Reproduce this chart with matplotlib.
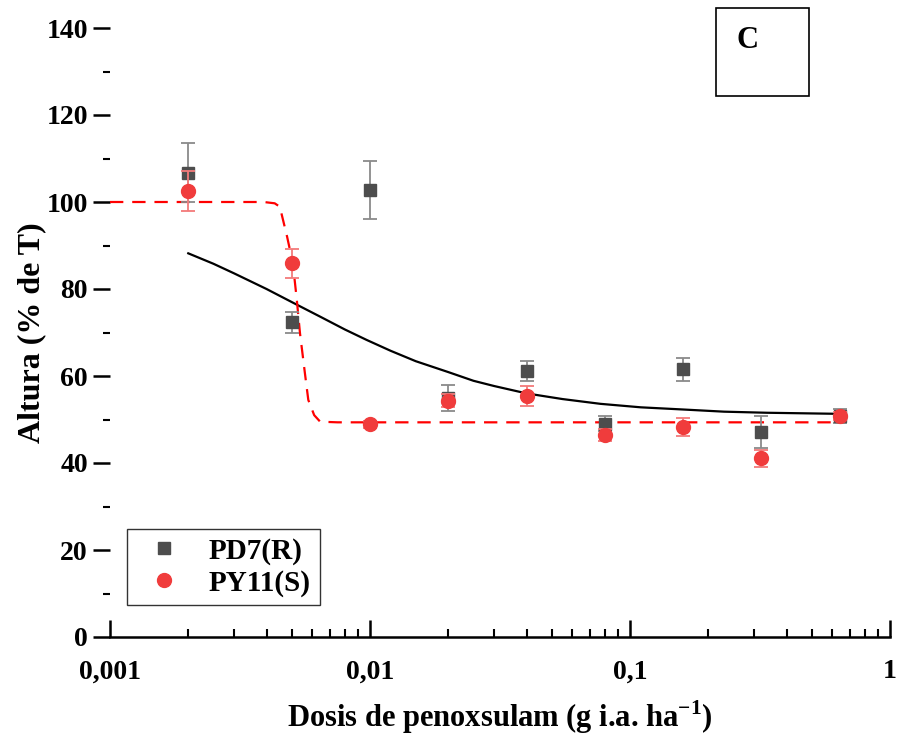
import numpy as np
import matplotlib.pyplot as plt
from matplotlib.patches import Rectangle
from matplotlib.lines import Line2D
from matplotlib.ticker import FixedLocator, FixedFormatter, MultipleLocator, LogLocator, NullFormatter

plt.rcParams['font.family'] = ['Liberation Serif', 'DejaVu Serif']
plt.rcParams['font.weight'] = 'bold'
plt.rcParams['mathtext.fontset'] = 'custom'
plt.rcParams['mathtext.rm'] = 'Liberation Serif:bold'
plt.rcParams['mathtext.bf'] = 'Liberation Serif:bold'

# dose (g i.a./ha)
dose = [0.002, 0.005, 0.01, 0.02, 0.04, 0.08, 0.16, 0.32, 0.64]

# PD7(R)
pd7 = [106.7, 72.3, 102.8, 55.0, 61.1, 49.0, 61.5, 47.2, 50.8]
pd7_err = [6.8, 2.4, 6.7, 3.0, 2.3, 1.7, 2.7, 3.7, 1.7]

# PY11(S)
py11 = [102.6, 85.9, 48.9, 54.3, 55.4, 46.4, 48.3, 41.1, 50.8]
py11_err = [4.6, 3.4, 0.8, 1.5, 2.3, 1.4, 2.0, 2.0, 1.0]

# fitted curves
fit_r_x = [0.002, 0.0025, 0.003, 0.004, 0.005, 0.0065, 0.008, 0.0097, 0.012, 0.015,
           0.02, 0.025, 0.03, 0.04, 0.055, 0.077, 0.11, 0.16, 0.23, 0.336, 0.64]
fit_r_y = [88.2, 85.8, 83.6, 80.0, 77.0, 73.5, 70.7, 68.3, 65.8, 63.4,
           60.9, 58.9, 57.7, 56.0, 54.7, 53.6, 52.8, 52.3, 51.8, 51.55, 51.3]

fit_s_x = [0.001, 0.0039, 0.0043, 0.0045, 0.0048, 0.00505, 0.00523, 0.00538, 0.00562,
           0.00579, 0.0061, 0.00643, 0.0075, 0.64]
fit_s_y = [100.0, 100.0, 99.7, 98.9, 92.0, 85.9, 77.5, 69.8, 60.6, 54.5, 51.0, 49.5, 49.35, 49.35]

fig = plt.figure(figsize=(9.01, 7.40), dpi=100)
ax = fig.add_axes([110 / 901, 103 / 740, 780 / 901, 609 / 740])

ax.plot(fit_r_x, fit_r_y, color='black', lw=1.6, zorder=2)
ax.plot(fit_s_x, fit_s_y, color='#ff0000', lw=1.6, dashes=(6, 4), zorder=2)

ax.errorbar(dose, pd7, yerr=pd7_err, fmt='s', color='#4d4d4d', ms=8.6,
            ecolor='#8a8a8a', elinewidth=1.3, capsize=5, capthick=1.3, zorder=3)
ax.errorbar(dose, py11, yerr=py11_err, fmt='o', color='#f03c3c', ms=10,
            ecolor='#f37a7a', elinewidth=1.3, capsize=5, capthick=1.3, zorder=4)

ax.set_xscale('log')
ax.set_xlim(0.001, 1)
ax.set_ylim(0, 140)

ax.xaxis.set_major_locator(FixedLocator([0.001, 0.01, 0.1, 1]))
ax.xaxis.set_major_formatter(FixedFormatter(['0,001', '0,01', '0,1', '1']))
ax.xaxis.set_minor_locator(LogLocator(base=10, subs=np.arange(2, 10)))
ax.xaxis.set_minor_formatter(NullFormatter())
ax.yaxis.set_major_locator(MultipleLocator(20))
ax.yaxis.set_minor_locator(MultipleLocator(10))

for s in ['top', 'right', 'left']:
    ax.spines[s].set_visible(False)
ax.spines['bottom'].set_linewidth(1.8)

ax.tick_params(axis='x', which='major', direction='in', length=12, width=1.8, labelsize=20, pad=16)
ax.tick_params(axis='x', which='minor', direction='in', length=6, width=1.5)
ax.tick_params(axis='y', which='major', direction='out', length=12, width=1.8, labelsize=20, pad=4)
ax.tick_params(axis='y', which='minor', direction='out', length=5, width=1.5)

ax.set_xlabel('Dosis de penoxsulam (g i.a. ha$^{\\mathrm{-1}}$)', fontsize=22, fontweight='bold', labelpad=10)
ax.set_ylabel('Altura (% de T)', fontsize=23, fontweight='bold', labelpad=0)

handles = [Line2D([], [], ls='none', marker='s', color='#4d4d4d', ms=8.6),
           Line2D([], [], ls='none', marker='o', color='#f03c3c', ms=10)]
leg = ax.legend(handles, ['PD7(R)', 'PY11(S)'], loc='lower left', bbox_to_anchor=(0.022, 0.052),
                borderaxespad=0, fontsize=21, frameon=True, fancybox=False, edgecolor='black',
                handletextpad=0.6, borderpad=0.3, labelspacing=0.15, handlelength=1.9)
leg.get_frame().set_linewidth(1.0)

# panel label box
fig.patches.append(Rectangle((716 / 901, 1 - 96 / 740), 93 / 901, 88 / 740,
                             transform=fig.transFigure, fill=False, edgecolor='black', lw=1.2))
fig.text(747 / 901, 1 - 40 / 740, 'C', fontsize=22, fontweight='bold', ha='center', va='center')

fig.savefig('out.png', dpi=100)
